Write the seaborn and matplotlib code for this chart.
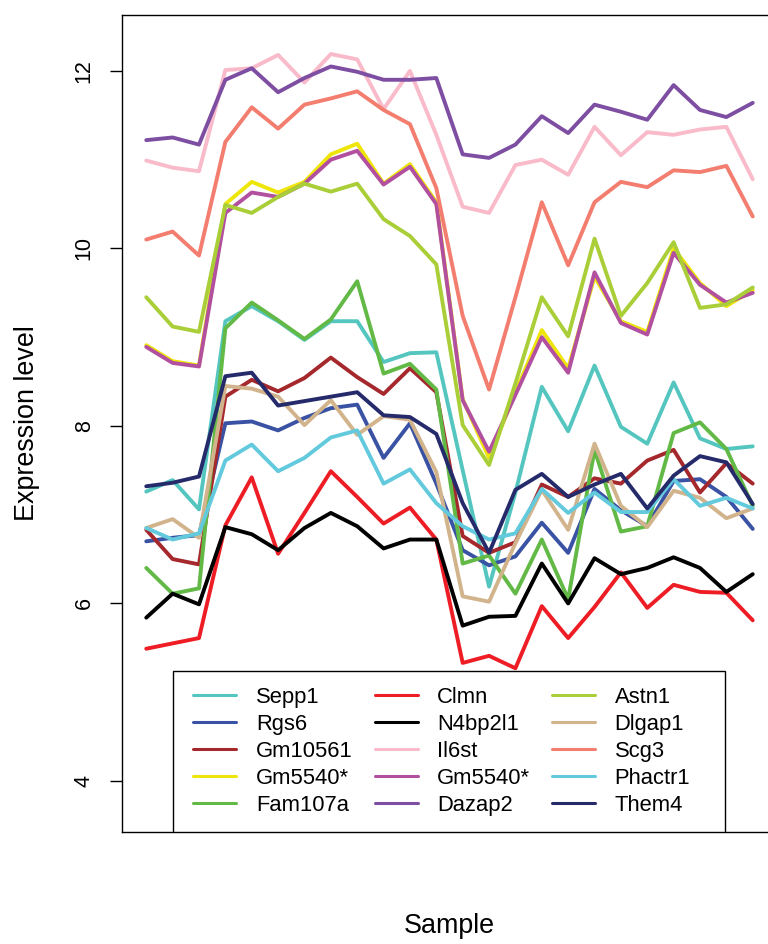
import numpy as np
import pandas as pd
import matplotlib
matplotlib.use("Agg")
import matplotlib.pyplot as plt
import seaborn as sns
from matplotlib.patches import Rectangle

sns.set_theme(style="white")
plt.rcParams["font.family"] = ["Liberation Sans", "DejaVu Sans"]

# Sample index along the x axis
samples = list(range(1, 25))

# Expression level per probe across the 24 samples
sepp1 = [7.26, 7.39, 7.06, 9.18, 9.35, 9.18, 8.97, 9.18, 9.18, 8.72, 8.82, 8.83,
         7.50, 6.19, 7.25, 8.44, 7.94, 8.68, 7.99, 7.80, 8.49, 7.86, 7.74, 7.77]
rgs6 = [6.70, 6.74, 6.77, 8.03, 8.05, 7.95, 8.09, 8.20, 8.24, 7.64, 8.03, 7.35,
        6.60, 6.43, 6.53, 6.91, 6.57, 7.29, 7.05, 6.87, 7.38, 7.40, 7.20, 6.84]
gm10561 = [6.83, 6.50, 6.44, 8.33, 8.52, 8.39, 8.54, 8.77, 8.55, 8.36, 8.65, 8.38,
           6.76, 6.57, 6.69, 7.34, 7.20, 7.41, 7.35, 7.61, 7.73, 7.25, 7.58, 7.35]
gm5540_a = [8.91, 8.73, 8.68, 10.50, 10.75, 10.63, 10.75, 11.06, 11.18, 10.73, 10.95, 10.52,
            8.30, 7.64, 8.38, 9.08, 8.65, 9.68, 9.18, 9.06, 10.00, 9.61, 9.35, 9.53]
fam107a = [6.40, 6.11, 6.17, 9.10, 9.39, 9.19, 8.98, 9.20, 9.63, 8.59, 8.70, 8.41,
           6.45, 6.54, 6.11, 6.72, 6.05, 7.73, 6.81, 6.87, 7.92, 8.04, 7.74, 7.10]
clmn = [5.49, 5.55, 5.61, 6.88, 7.42, 6.56, 7.02, 7.49, 7.20, 6.90, 7.08, 6.72,
        5.33, 5.41, 5.27, 5.97, 5.61, 5.96, 6.35, 5.95, 6.21, 6.13, 6.12, 5.81]
n4bp2l1 = [5.84, 6.11, 5.99, 6.86, 6.78, 6.60, 6.85, 7.02, 6.87, 6.62, 6.72, 6.72,
           5.75, 5.85, 5.86, 6.45, 6.00, 6.51, 6.33, 6.40, 6.52, 6.40, 6.13, 6.33]
il6st = [10.99, 10.91, 10.87, 12.01, 12.03, 12.18, 11.87, 12.19, 12.13, 11.57, 12.00, 11.28,
         10.47, 10.40, 10.94, 11.00, 10.83, 11.37, 11.05, 11.31, 11.28, 11.34, 11.37, 10.78]
gm5540_b = [8.89, 8.71, 8.67, 10.40, 10.63, 10.58, 10.73, 11.00, 11.10, 10.72, 10.92, 10.50,
            8.29, 7.71, 8.35, 9.00, 8.60, 9.73, 9.16, 9.03, 9.95, 9.59, 9.39, 9.50]
dazap2 = [11.22, 11.25, 11.17, 11.90, 12.03, 11.76, 11.92, 12.05, 11.99, 11.90, 11.90, 11.92,
          11.06, 11.02, 11.17, 11.49, 11.30, 11.62, 11.54, 11.45, 11.84, 11.56, 11.48, 11.64]
astn1 = [9.45, 9.12, 9.06, 10.49, 10.40, 10.58, 10.73, 10.64, 10.73, 10.33, 10.14, 9.82,
         8.01, 7.56, 8.48, 9.45, 9.01, 10.11, 9.24, 9.61, 10.07, 9.33, 9.37, 9.56]
dlgap1 = [6.85, 6.95, 6.74, 8.45, 8.42, 8.33, 8.01, 8.29, 7.90, 8.11, 8.07, 7.48,
          6.08, 6.02, 6.68, 7.28, 6.83, 7.80, 7.10, 6.86, 7.27, 7.19, 6.96, 7.07]
scg3 = [10.10, 10.19, 9.92, 11.20, 11.59, 11.35, 11.62, 11.69, 11.77, 11.56, 11.40, 10.68,
        9.24, 8.41, 9.45, 10.52, 9.81, 10.52, 10.75, 10.69, 10.88, 10.86, 10.93, 10.36]
phactr1 = [6.85, 6.72, 6.79, 7.61, 7.79, 7.49, 7.64, 7.87, 7.95, 7.35, 7.51, 7.13,
           6.87, 6.72, 6.79, 7.29, 7.02, 7.25, 7.03, 7.03, 7.40, 7.10, 7.19, 7.07]
them4 = [7.32, 7.36, 7.43, 8.56, 8.60, 8.23, 8.28, 8.33, 8.38, 8.12, 8.10, 7.91,
         7.13, 6.57, 7.28, 7.46, 7.20, 7.34, 7.46, 7.07, 7.44, 7.66, 7.59, 7.12]

genes = ["Sepp1", "Rgs6", "Gm10561", "Gm5540*", "Fam107a",
         "Clmn", "N4bp2l1", "Il6st", "Gm5540*", "Dazap2",
         "Astn1", "Dlgap1", "Scg3", "Phactr1", "Them4"]
colors = ["#55C6BF", "#3A52A3", "#A5282C", "#EEE60A", "#62B946",
          "#EE1D25", "#000000", "#F9BACA", "#B2509F", "#7D4EA2",
          "#A9CE37", "#D2B48C", "#F37D6F", "#62CADC", "#252A6B"]
series = [sepp1, rgs6, gm10561, gm5540_a, fam107a,
          clmn, n4bp2l1, il6st, gm5540_b, dazap2,
          astn1, dlgap1, scg3, phactr1, them4]

n_probe = len(series)
df = pd.DataFrame({
    "Sample": np.tile(samples, n_probe),
    "Expression level": np.concatenate(series),
    "probe": np.repeat(np.arange(n_probe), len(samples)),
})

fig = plt.figure(figsize=(7.68, 9.44), dpi=100)
ax = fig.add_axes([122 / 768, 112 / 944, 655 / 768, 817 / 944])

sns.lineplot(data=df, x="Sample", y="Expression level", hue="probe",
             hue_order=list(range(n_probe)), palette=colors,
             linewidth=2.8, legend=False, errorbar=None, sort=False, ax=ax)

ax.set_xlim(0.08, 24.92)
ax.set_ylim(3.425, 12.63)
ax.set_xticks([])
ax.set_yticks([4, 6, 8, 10, 12])
ax.tick_params(axis="y", left=True, length=8.6, width=1.0, direction="out",
               color="black", labelcolor="black", labelsize=15.5, pad=11)
for lab in ax.get_yticklabels():
    lab.set_rotation(90)
    lab.set_va("center")

for side in ["left", "top", "bottom", "right"]:
    ax.spines[side].set_color("black")
    ax.spines[side].set_linewidth(1.0)

ax.set_xlabel("Sample", fontsize=19.4, color="black")
ax.set_ylabel("Expression level", fontsize=19.4, color="black")
ax.xaxis.set_label_coords(0.5, -0.115)
ax.xaxis.label.set_va("center")
ax.yaxis.set_label_coords(-0.1444, 0.5)
ax.yaxis.label.set_va("center")

# Legend box and three-column key
ax.add_patch(Rectangle((0.0779, 0.0), 0.8427, 0.1971, transform=ax.transAxes,
                       facecolor="white", edgecolor="black", linewidth=1.0, zorder=3))
handles = ax.get_lines()[:n_probe]
leg = ax.legend(handles, genes, ncol=3, frameon=False, loc="center",
                bbox_to_anchor=(0.4882, 0.0988), fontsize=15.8,
                handlelength=1.97, handletextpad=0.88, columnspacing=1.0,
                labelspacing=0.27, borderpad=0.0, borderaxespad=0.0)
leg.set_zorder(5)
for ln in leg.get_lines():
    ln.set_linewidth(2.2)
for t in leg.get_texts():
    t.set_color("black")

fig.savefig("out.png", dpi=100)
